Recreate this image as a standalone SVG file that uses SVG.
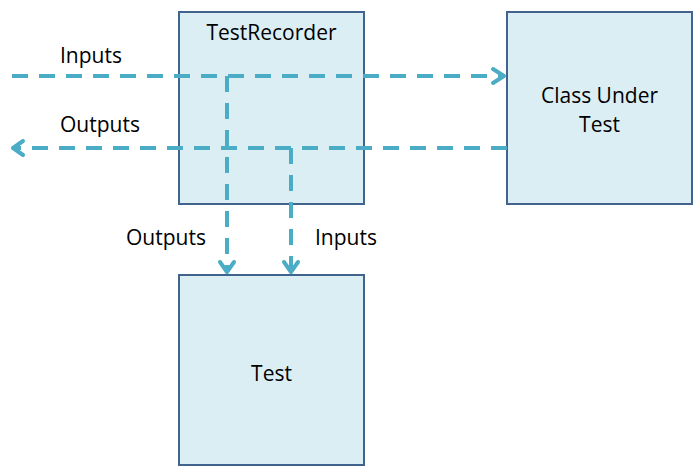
<svg xmlns="http://www.w3.org/2000/svg" width="696" height="468" viewBox="0 0 696 468">
<style>
.box{fill:#DBEEF4;stroke:#41648F;stroke-width:2}
.lbl{font-family:"Open Sans","Liberation Sans",sans-serif;font-size:21px;fill:#000}
.flow{fill:none;stroke:#4BACC6;stroke-width:4;stroke-dasharray:16 11}
.head{fill:none;stroke:#4BACC6;stroke-width:4;stroke-linecap:round;stroke-linejoin:round}
</style>
<rect width="696" height="468" fill="#fff"/>
<g id="testrecorder">
<rect class="box" x="179" y="12" width="185" height="192"/>
<text class="lbl" x="271.5" y="40" text-anchor="middle">TestRecorder</text>
</g>
<g id="classundertest">
<rect class="box" x="507" y="12" width="185" height="192"/>
<text class="lbl" x="599.5" y="103" text-anchor="middle">Class Under</text>
<text class="lbl" x="599.5" y="132" text-anchor="middle">Test</text>
</g>
<g id="test">
<rect class="box" x="179" y="275" width="185" height="190"/>
<text class="lbl" x="271.5" y="381" text-anchor="middle">Test</text>
</g>
<g id="connectors">
<path class="flow" d="M12 76H504"/>
<path class="head" d="M493 69L504 76L493 83"/>
<path class="flow" d="M507 148H14"/>
<path class="head" d="M23 141L13 148L23 155"/>
<path class="flow" d="M227 76V272"/>
<path class="head" d="M220 262L227 272L234 262"/>
<path class="flow" d="M291 148V272"/>
<path class="head" d="M284 262L291 272L298 262"/>
<text class="lbl" x="60" y="63">Inputs</text>
<text class="lbl" x="60" y="132">Outputs</text>
<text class="lbl" x="126" y="245">Outputs</text>
<text class="lbl" x="315" y="245">Inputs</text>
</g>
</svg>
